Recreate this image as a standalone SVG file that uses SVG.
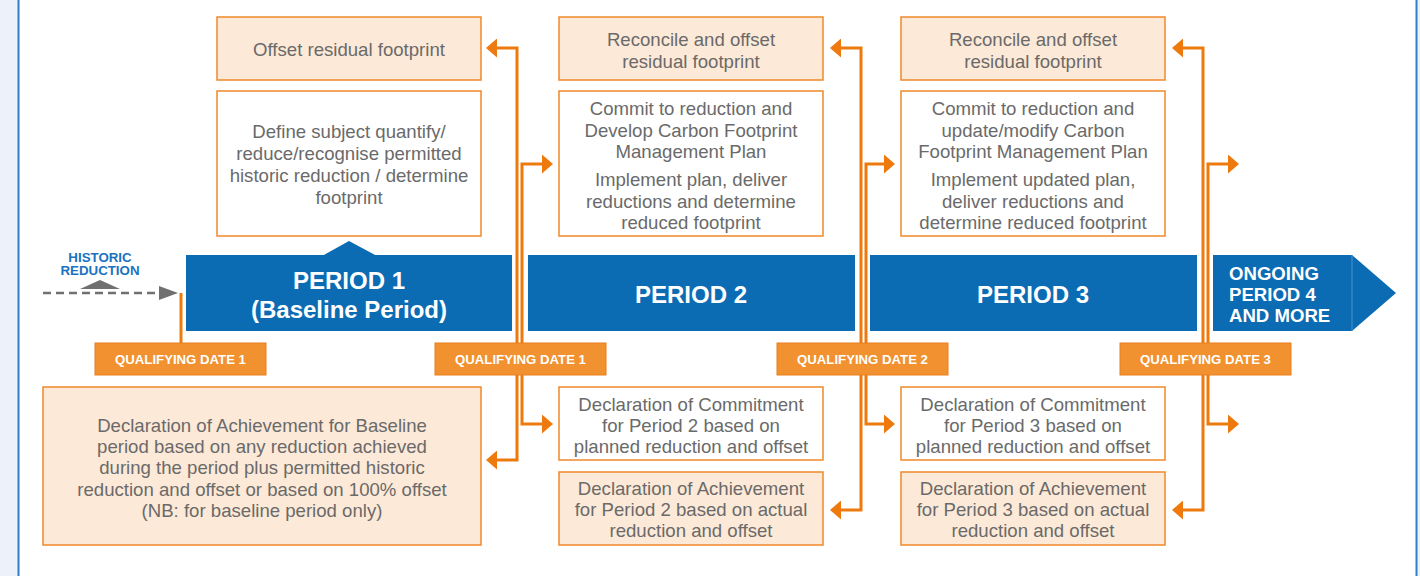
<svg xmlns="http://www.w3.org/2000/svg" width="1420" height="576" viewBox="0 0 1420 576">
<style>
.box{stroke:#f0892a;stroke-width:1.5}
.fill{fill:#fde9d7}
.white{fill:#ffffff}
.t{font-family:"Liberation Sans",Arial,Helvetica,sans-serif;font-size:18.6px;fill:#6a6a6a;text-anchor:middle}
.bar{fill:#0b6cb4}
.bt{font-family:"Liberation Sans",Arial,Helvetica,sans-serif;font-weight:bold;font-size:24px;fill:#ffffff;text-anchor:middle}
.ot{font-family:"Liberation Sans",Arial,Helvetica,sans-serif;font-weight:bold;font-size:18.6px;fill:#ffffff}
.q{fill:#f1912f;stroke:#eb7f1c;stroke-width:1}
.qt{font-family:"Liberation Sans",Arial,Helvetica,sans-serif;font-weight:bold;font-size:13.2px;fill:#ffffff;text-anchor:middle}
.c{fill:none;stroke:#ee7a0e;stroke-width:3;stroke-linejoin:miter}
.ht{font-family:"Liberation Sans",Arial,Helvetica,sans-serif;font-weight:bold;font-size:13.3px;fill:#1a73bf;text-anchor:middle}
</style>
<defs>
<marker id="ah" viewBox="0 0 11 19" refX="0" refY="9.5" markerWidth="11" markerHeight="19" markerUnits="userSpaceOnUse" orient="auto-start-reverse">
<path d="M0,0 L11,9.5 L0,19 Z" fill="#ee7a0e"/>
</marker>
</defs>
<rect x="0" y="0" width="1420" height="576" fill="#ecf1fa"/>
<rect x="18" y="0" width="1399" height="576" fill="#ffffff"/>
<line x1="18.5" y1="0" x2="18.5" y2="576" stroke="#2f7fc6" stroke-width="2"/>
<line x1="1416.5" y1="0" x2="1416.5" y2="576" stroke="#2f7fc6" stroke-width="2"/>

<g id="connectors">
<path class="c" d="M497,460 H517 V48 H497" marker-start="url(#ah)" marker-end="url(#ah)"/>
<path class="c" d="M542,164 H522 V424 H542" marker-start="url(#ah)" marker-end="url(#ah)"/>
<path class="c" d="M841,510 H861 V48 H841" marker-start="url(#ah)" marker-end="url(#ah)"/>
<path class="c" d="M884,164 H866 V424 H884" marker-start="url(#ah)" marker-end="url(#ah)"/>
<path class="c" d="M1183,510 H1203 V48 H1183" marker-start="url(#ah)" marker-end="url(#ah)"/>
<path class="c" d="M1228,164 H1208 V424 H1228" marker-start="url(#ah)" marker-end="url(#ah)"/>
<line x1="181" y1="293" x2="181" y2="344" stroke="#ee7a0e" stroke-width="3"/>
<line x1="43" y1="293" x2="160" y2="293" stroke="#707070" stroke-width="2.5" stroke-dasharray="8 5"/>
<polygon points="159,286 178,293 159,300" fill="#707070"/>
</g>

<g id="historic">
<text class="ht" x="100" y="262">HISTORIC</text>
<text class="ht" x="100" y="275">REDUCTION</text>
<polygon points="80,289 100,280 120,289" fill="#707070"/>
</g>

<g id="top1"><rect class="box fill" x="217" y="17" width="264" height="63"/>
<text class="t" x="349" y="55.5">Offset residual footprint</text></g>
<g id="top2"><rect class="box fill" x="559" y="17" width="264" height="63"/>
<text class="t" x="691" y="45.5">Reconcile and offset</text><text class="t" x="691" y="67.5">residual footprint</text></g>
<g id="top3"><rect class="box fill" x="901" y="17" width="264" height="63"/>
<text class="t" x="1033" y="45.5">Reconcile and offset</text><text class="t" x="1033" y="67.5">residual footprint</text></g>

<g id="mid1"><rect class="box white" x="217" y="91" width="264" height="145"/>
<text class="t" x="349" y="137.5">Define subject quantify/</text>
<text class="t" x="349" y="159.5">reduce/recognise permitted</text>
<text class="t" x="349" y="181.5">historic reduction / determine</text>
<text class="t" x="349" y="203.5">footprint</text></g>
<g id="mid2"><rect class="box white" x="559" y="91" width="264" height="145"/>
<text class="t" x="691" y="115">Commit to reduction and</text>
<text class="t" x="691" y="136.7">Develop Carbon Footprint</text>
<text class="t" x="691" y="158.3">Management Plan</text>
<text class="t" x="691" y="186">Implement plan, deliver</text>
<text class="t" x="691" y="207.5">reductions and determine</text>
<text class="t" x="691" y="229">reduced footprint</text></g>
<g id="mid3"><rect class="box white" x="901" y="91" width="264" height="145"/>
<text class="t" x="1033" y="115">Commit to reduction and</text>
<text class="t" x="1033" y="136.7">update/modify Carbon</text>
<text class="t" x="1033" y="158.3">Footprint Management Plan</text>
<text class="t" x="1033" y="186">Implement updated plan,</text>
<text class="t" x="1033" y="207.5">deliver reductions and</text>
<text class="t" x="1033" y="229">determine reduced footprint</text></g>

<g id="period1"><rect class="bar" x="186" y="255" width="326" height="76"/>
<polygon class="bar" points="322,256 349,241 377,256"/>
<text class="bt" x="349" y="288.5">PERIOD 1</text>
<text class="bt" x="349" y="317.5">(Baseline Period)</text></g>
<g id="period2"><rect class="bar" x="528" y="255" width="327" height="76"/>
<text class="bt" x="691" y="303">PERIOD 2</text></g>
<g id="period3"><rect class="bar" x="870" y="255" width="327" height="76"/>
<text class="bt" x="1033" y="303">PERIOD 3</text></g>
<g id="period4"><polygon class="bar" points="1213,255 1352,255 1396,293 1352,331 1213,331"/>
<line x1="1352" y1="255" x2="1352" y2="331" stroke="#4a8fcc" stroke-width="1"/>
<text class="ot" x="1229" y="279.5">ONGOING</text>
<text class="ot" x="1229" y="300.5">PERIOD 4</text>
<text class="ot" x="1229" y="321.5">AND MORE</text></g>

<g id="qd1a"><rect class="q" x="95" y="343" width="171" height="32"/><text class="qt" x="180.5" y="364">QUALIFYING DATE 1</text></g>
<g id="qd1b"><rect class="q" x="435" y="343" width="171" height="32"/><text class="qt" x="520.5" y="364">QUALIFYING DATE 1</text></g>
<g id="qd2"><rect class="q" x="777" y="343" width="171" height="32"/><text class="qt" x="862.5" y="364">QUALIFYING DATE 2</text></g>
<g id="qd3"><rect class="q" x="1120" y="343" width="171" height="32"/><text class="qt" x="1205.5" y="364">QUALIFYING DATE 3</text></g>

<g id="achieve1"><rect class="box fill" x="43" y="387" width="438" height="158"/>
<text class="t" x="262" y="431.5">Declaration of Achievement for Baseline</text>
<text class="t" x="262" y="452.5">period based on any reduction achieved</text>
<text class="t" x="262" y="474">during the period plus permitted historic</text>
<text class="t" x="262" y="495.5">reduction and offset or based on 100% offset</text>
<text class="t" x="262" y="516.5">(NB: for baseline period only)</text></g>
<g id="commit2"><rect class="box white" x="559" y="387" width="264" height="73"/>
<text class="t" x="691" y="410.5">Declaration of Commitment</text>
<text class="t" x="691" y="431.5">for Period 2 based on</text>
<text class="t" x="691" y="452.5">planned reduction and offset</text></g>
<g id="achieve2"><rect class="box fill" x="559" y="472" width="264" height="73"/>
<text class="t" x="691" y="494.5">Declaration of Achievement</text>
<text class="t" x="691" y="515.5">for Period 2 based on actual</text>
<text class="t" x="691" y="536.5">reduction and offset</text></g>
<g id="commit3"><rect class="box white" x="901" y="387" width="264" height="73"/>
<text class="t" x="1033" y="410.5">Declaration of Commitment</text>
<text class="t" x="1033" y="431.5">for Period 3 based on</text>
<text class="t" x="1033" y="452.5">planned reduction and offset</text></g>
<g id="achieve3"><rect class="box fill" x="901" y="472" width="264" height="73"/>
<text class="t" x="1033" y="494.5">Declaration of Achievement</text>
<text class="t" x="1033" y="515.5">for Period 3 based on actual</text>
<text class="t" x="1033" y="536.5">reduction and offset</text></g>
</svg>
